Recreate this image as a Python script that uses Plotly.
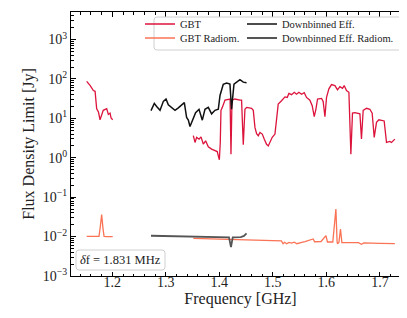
import plotly.graph_objects as go

# ---------------- data ----------------
gbt1_x = [1.152, 1.1583, 1.1645, 1.1677, 1.1707, 1.174, 1.177, 1.180, 1.183, 1.1894, 1.1925, 1.1957, 1.1976, 1.2006]
gbt1_y = [87, 69, 51, 48.6, 17.6, 14.5, 9.2, 13, 16, 17.6, 12.6, 13.6, 10.2, 9.2]

gbt2_x = [1.3513, 1.3545, 1.3575, 1.362, 1.3657, 1.370, 1.3743, 1.3793, 1.3855, 1.3918, 1.396, 1.398, 1.400,
          1.4017, 1.403, 1.4055, 1.4105, 1.420, 1.4217, 1.4236, 1.429, 1.4385, 1.4415, 1.4447, 1.4478, 1.451,
          1.4602, 1.4634, 1.4665, 1.4696, 1.4727, 1.4759, 1.4802, 1.484, 1.4882, 1.4914, 1.4945, 1.4988, 1.5039,
          1.5069, 1.510, 1.5162, 1.5226, 1.5268, 1.530, 1.5349, 1.540, 1.5442, 1.5487, 1.5536, 1.5586, 1.5629,
          1.5692, 1.5735, 1.5773, 1.5804, 1.5835, 1.591, 1.594, 1.5973, 1.6003, 1.6047, 1.6096, 1.616, 1.6208,
          1.6253, 1.6302, 1.6333, 1.6376, 1.6421, 1.6458, 1.6488, 1.6533, 1.6627, 1.6656, 1.6688, 1.675, 1.6813,
          1.6856, 1.6894, 1.6937, 1.6982, 1.708, 1.7124, 1.7187, 1.7217, 1.7249, 1.728]
gbt2_y = [3.63, 2.45, 3.3, 2.96, 3.4, 2.22, 2.7, 1.9, 1.66, 1.55, 1.44, 1.12, 0.89,
          2.45, 16, 19, 29, 31, 1.23, 29, 31, 29, 29, 2.14, 17, 19,
          18, 16, 5.9, 4.1, 3.6, 4.4, 4.0, 2.97, 2.2, 2.0, 2.45, 3.3, 4.0,
          8.7, 23, 28, 35, 34, 43, 40, 46, 41, 46, 41, 45, 34,
          29, 21, 11, 17, 31, 32, 27, 11, 34, 56, 72, 68, 53,
          64, 58, 68, 51, 46, 1.23, 13.6, 14, 13, 3.0, 16, 18, 17,
          13.6, 3.3, 7.9, 9.2, 8.6, 2.45, 2.6, 2.45, 2.8, 2.97]

rad1_x = [1.152, 1.160, 1.170, 1.175, 1.1775, 1.180, 1.1825, 1.1845, 1.190, 1.2006]
rad1_y = [0.0101, 0.0100, 0.0100, 0.0101, 0.018, 0.036, 0.016, 0.0101, 0.0100, 0.0100]

rad2_x = [1.3513, 1.40, 1.45, 1.50, 1.516, 1.519, 1.522, 1.526, 1.530, 1.535, 1.540, 1.545, 1.550, 1.554,
          1.560, 1.5754, 1.578, 1.590, 1.5992, 1.602, 1.612, 1.6178, 1.6200, 1.6208, 1.6235, 1.6264, 1.629,
          1.640, 1.66, 1.6656, 1.670, 1.70, 1.728]
rad2_y = [0.0090, 0.0086, 0.0082, 0.0079, 0.0078, 0.0066, 0.0072, 0.0066, 0.0071, 0.0068, 0.0072, 0.0066, 0.0070, 0.0071,
          0.0074, 0.0087, 0.0074, 0.0075, 0.0106, 0.0073, 0.0073, 0.050, 0.0075, 0.0065, 0.0072, 0.0156, 0.0070,
          0.0071, 0.0070, 0.0064, 0.0069, 0.0067, 0.0066]

deff_x = [1.2722, 1.2784, 1.2828, 1.2891, 1.2953, 1.3003, 1.3046, 1.3108, 1.3171, 1.3233, 1.3294, 1.3345,
          1.3388, 1.342, 1.3451, 1.3494, 1.3556, 1.362, 1.3681, 1.3731, 1.3793, 1.3855, 1.3918, 1.398, 1.4012,
          1.4073, 1.4135, 1.4198, 1.4228, 1.4273, 1.4322, 1.4385, 1.4447, 1.449, 1.4508]
deff_y = [15.7, 24, 20, 16, 27, 31, 22, 19, 16, 18.5, 22, 25,
          10.5, 9, 6.2, 9, 14, 17, 9, 17, 19, 13, 16, 17, 38,
          73, 79, 74, 17, 74, 83, 96, 83, 79, 80]

drad_x = [1.2722, 1.30, 1.35, 1.40, 1.418, 1.4217, 1.425, 1.44, 1.446, 1.4508]
drad_y = [0.0105, 0.0103, 0.0100, 0.0097, 0.0096, 0.0054, 0.0096, 0.0097, 0.0104, 0.0120]

y_tickvals = [1e-3, 1e-2, 1e-1, 1e0, 1e1, 1e2, 1e3]
y_ticktext = ["10<sup>\u22123</sup>", "10<sup>\u22122</sup>", "10<sup>\u22121</sup>", "10<sup>0</sup>",
              "10<sup>1</sup>", "10<sup>2</sup>", "10<sup>3</sup>"]
x_tickvals = [1.2, 1.3, 1.4, 1.5, 1.6, 1.7]
x_ticktext = ["1.2", "1.3", "1.4", "1.5", "1.6", "1.7"]

# ---------------- figure ----------------
C_GBT = "#DC143C"
C_RAD = "#FA7355"
C_DEFF = "#111111"
C_DRAD = "#555555"
FONT = "Liberation Serif"

W, H = 407, 318
L, R, T, B = 63, 5, 4, 50
pw, ph = W - L - R, H - T - B


def px2paper_x(px):
    return (px - L) / pw


def px2paper_y(py):
    return (H - B - py) / ph


fig = go.Figure()
fig.add_trace(go.Scatter(x=gbt1_x, y=gbt1_y, mode="lines", line=dict(color=C_GBT, width=1.3),
                         name="GBT", legend="legend", legendgroup="gbt"))
fig.add_trace(go.Scatter(x=gbt2_x, y=gbt2_y, mode="lines", line=dict(color=C_GBT, width=1.3),
                         name="GBT", showlegend=False, legendgroup="gbt"))
fig.add_trace(go.Scatter(x=rad1_x, y=rad1_y, mode="lines", line=dict(color=C_RAD, width=1.3),
                         name="GBT Radiom.", legend="legend2", legendgroup="rad"))
fig.add_trace(go.Scatter(x=rad2_x, y=rad2_y, mode="lines", line=dict(color=C_RAD, width=1.3),
                         name="GBT Radiom.", showlegend=False, legendgroup="rad"))
fig.add_trace(go.Scatter(x=deff_x, y=deff_y, mode="lines", line=dict(color=C_DEFF, width=1.5),
                         name="Downbinned Eff.", legend="legend3"))
fig.add_trace(go.Scatter(x=drad_x, y=drad_y, mode="lines", line=dict(color=C_DRAD, width=1.8),
                         name="Downbinned Eff. Radiom.", legend="legend4"))


def rounded_path(x0p, y0p, x1p, y1p, r=3):
    X = px2paper_x
    Y = px2paper_y
    rx, ry = r / pw, r / ph
    a, b, c, d = X(x0p), Y(y0p), X(x1p), Y(y1p)
    return (f"M {a+rx},{b} L {c-rx},{b} Q {c},{b} {c},{b-ry} L {c},{d+ry} Q {c},{d} {c-rx},{d} "
            f"L {a+rx},{d} Q {a},{d} {a},{d+ry} L {a},{b-ry} Q {a},{b} {a+rx},{b} Z")


fig.add_shape(type="path", xref="paper", yref="paper", path=rounded_path(146, 9, 397, 42),
              line=dict(color="#d0d0d0", width=1), fillcolor="rgba(255,255,255,0.85)", layer="above")
fig.add_shape(type="path", xref="paper", yref="paper", path=rounded_path(68, 242, 157, 262),
              line=dict(color="#d0d0d0", width=1), fillcolor="rgba(255,255,255,0.85)", layer="above")

fig.add_annotation(x=px2paper_x(112.5), y=px2paper_y(252), xref="paper", yref="paper",
                   text="<i>\u03b4</i>f = 1.831 MHz", showarrow=False,
                   font=dict(family=FONT, size=12.5, color="#222"), xanchor="center", yanchor="middle")

axis_common = dict(showline=True, linecolor="black", linewidth=1, mirror="allticks",
                   ticks="inside", ticklen=4.5, tickwidth=0.8, tickcolor="black",
                   showgrid=False, zeroline=False,
                   tickfont=dict(family=FONT, size=14, color="#222"))

leg_common = dict(xanchor="left", yanchor="middle", bgcolor="rgba(0,0,0,0)", borderwidth=0,
                  font=dict(family=FONT, size=10.5, color="#222"), itemwidth=30)
TX1, TX2 = 177, 279
OFF = 45

fig.update_layout(
    width=W, height=H, margin=dict(l=L, r=R, t=T, b=B, autoexpand=False),
    paper_bgcolor="white", plot_bgcolor="white",
    font=dict(family=FONT, color="#222"),
    xaxis=dict(range=[1.1227, 1.7563], tickvals=x_tickvals, ticktext=x_ticktext,
               title=dict(text="Frequency [GHz]", font=dict(family=FONT, size=16, color="#222"), standoff=4),
               minor=dict(ticks="inside", ticklen=2.5, tickwidth=0.6, dtick=0.02, tick0=1.2, tickcolor="black"),
               ticklabelstandoff=-7,
               **axis_common),
    yaxis=dict(type="log", range=[-3, 3.699], tickvals=y_tickvals, ticktext=y_ticktext,
               title=dict(text="Flux Density Limit [Jy]", font=dict(family=FONT, size=16, color="#222"), standoff=4),
               minor=dict(ticks="inside", ticklen=2.5, tickwidth=0.6, dtick="D1", tickcolor="black"),
               **axis_common),
    legend=dict(x=px2paper_x(TX1 - OFF), y=px2paper_y(16), **leg_common),
    legend2=dict(x=px2paper_x(TX1 - OFF), y=px2paper_y(30), **leg_common),
    legend3=dict(x=px2paper_x(TX2 - OFF), y=px2paper_y(16), **leg_common),
    legend4=dict(x=px2paper_x(TX2 - OFF), y=px2paper_y(30), **leg_common),
    showlegend=True,
)

fig.write_html("out.html")
